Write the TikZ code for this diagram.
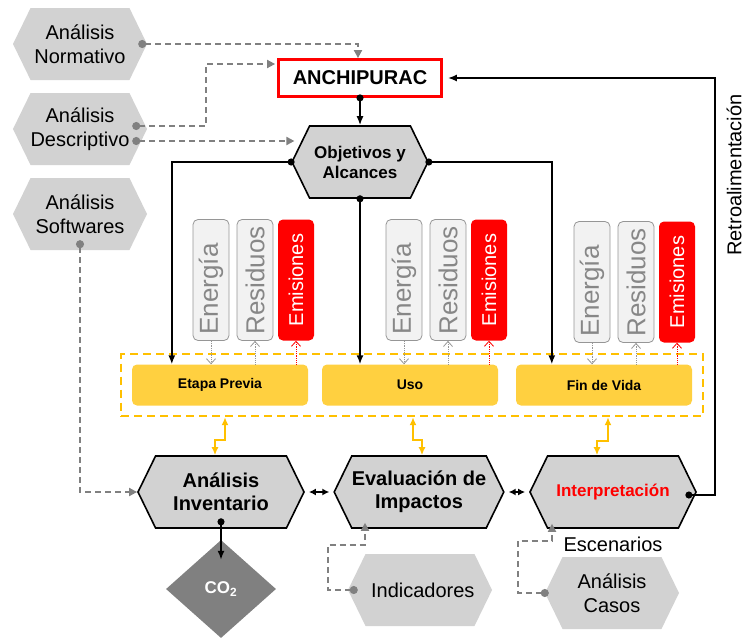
\documentclass[tikz,border=0pt]{standalone}
\usepackage{fontspec}
\setmainfont{Liberation Sans}
\usepackage{tikz}
\usetikzlibrary{shapes.symbols,shapes.geometric,arrows.meta,fit,calc}

\definecolor{hexgray}{RGB}{210,210,210}
\definecolor{linkgray}{RGB}{128,128,128}
\definecolor{phaseyellow}{RGB}{255,208,64}
\definecolor{frameyellow}{RGB}{255,192,0}
\definecolor{boxgray}{RGB}{242,242,242}
\definecolor{boxline}{RGB}{150,150,150}
\definecolor{boxtext}{RGB}{135,135,135}
\definecolor{co2gray}{RGB}{128,128,128}

\newcommand{\fsz}[2]{\fontsize{#1}{#2}\selectfont}

\tikzset{
  every hex/.style={signal, signal to=east and west, signal pointer angle=128,
    minimum width=134pt, minimum height=72pt, inner sep=0pt, align=center, fill=hexgray},
  soft hex/.style={every hex, font=\fsz{20}{24}},
  main hex/.style={every hex, draw=black, line width=1.6pt, minimum width=166pt, font=\bfseries\fsz{20}{23}},
  phase/.style={fill=phaseyellow, rounded corners=5pt, minimum width=176pt, minimum height=41pt,
    font=\bfseries\fsz{14}{16}},
  flowbox/.style={rounded corners=5pt, rotate=90, minimum width=121pt, minimum height=36pt, inner sep=0pt},
  flowgray/.style={flowbox, fill=boxgray, draw=boxline, line width=0.8pt, text=boxtext,
    text width=109pt, inner xsep=6pt, align=left, font=\fsz{26}{28}},
  flowred/.style={flowbox, fill=red, text=white, font=\fsz{20}{22}},
  flow/.style={line width=1.6pt, -{Latex[length=9pt,width=7pt]}},
  dotflow/.style={line width=1.6pt, {Circle[length=7pt]}-{Latex[length=9pt,width=7pt]}, shorten <=-3.5pt},
  dlink/.style={linkgray, line width=1.8pt, dash pattern=on 6pt off 4pt,
    {Circle[length=8pt]}-{Triangle[length=8pt,width=8pt]}, shorten <=-4pt},
  ylink/.style={frameyellow, line width=2pt, {Latex[length=8pt,width=7pt]}-{Latex[length=8pt,width=7pt]}},
  twoway/.style={line width=1.6pt, {Latex[length=7pt,width=7pt]}-{Latex[length=7pt,width=7pt]},
    shorten <=4pt, shorten >=4pt},
  thinlink/.style={line width=0.8pt, densely dotted, -{Straight Barb[length=5pt,width=9pt]}}
}

\begin{document}
\begin{tikzpicture}[x=1pt, y=-1pt]

\useasboundingbox (0,0) rectangle (746,637);

\node[soft hex] (norm) at (80,44) {Análisis\\Normativo};
\node[soft hex] (desc) at (80,129) {Análisis\\Descriptivo};
\node[soft hex] (soft) at (80,214) {Análisis\\Softwares};

\node[draw=red, line width=2.8pt, fill=white, minimum width=163pt, minimum height=37pt,
  font=\bfseries\fsz{20}{24}] (anch) at (360,78) {ANCHIPURAC};
\node[main hex, minimum width=136pt, font=\bfseries\fsz{17}{20}] (obj) at (360,162) {Objetivos y\\Alcances};

\foreach \p/\x in {ep/220, uso/410, fin/604}
  \node[phase] (phase-\p) at (\x,385) {};
\node[font=\bfseries\fsz{14}{16}] at (phase-ep) {Etapa Previa};
\node[font=\bfseries\fsz{14}{16}] at (phase-uso) {Uso};
\node[font=\bfseries\fsz{14}{16}] at (phase-fin) {Fin de Vida};

\node[draw=frameyellow, line width=2pt, dash pattern=on 8pt off 5pt, inner sep=10.5pt,
  fit=(phase-ep)(phase-uso)(phase-fin)] (box) {};

\foreach \p/\x/\y in {ep/211/280, uso/404/280, fin/592/282} {
  \node[flowgray] (ene-\p) at (\x,\y) {Energía};
  \node[flowgray] (res-\p) at (\x+44,\y) {Residuos};
  \node[flowred] (emi-\p) at (\x+85,\y) {Emisiones};
  \draw[thinlink, boxline] (ene-\p.west) -- (ene-\p.west |- phase-\p.north);
  \draw[thinlink, boxline] (res-\p.west |- phase-\p.north) -- (res-\p.west);
  \draw[thinlink, red] (emi-\p.west |- phase-\p.north) -- (emi-\p.west);
}

\node[main hex] (inv) at (221,492) {Análisis\\Inventario};
\node[main hex] (eva) at (419,492) {Evaluación de\\Impactos};
\node[main hex, text=red, font=\bfseries\fsz{17}{20}] (inter) at (613,492) {Interpretación};

\node[diamond, fill=co2gray, minimum width=110pt, minimum height=98pt, inner sep=0pt,
  text=white, font=\bfseries\fsz{17}{20}] (co2) at (221,589) {CO\textsubscript{2}};
\node[soft hex, minimum width=135pt] (ind) at (420,590) {\ Indicadores};
\node[soft hex] (casos) at (612,593) {Análisis\\Casos};
\node[font=\fsz{20}{24}] (esc) at (613,544) {Escenarios};
\node[rotate=90, font=\fsz{20}{24}] (retro) at (734,175) {Retroalimentación};

\coordinate (dsc-a) at ([xshift=-11pt,yshift=3pt]desc.east);
\coordinate (dsc-b) at ([xshift=-11pt,yshift=-12pt]desc.east);

\draw[dlink] ([xshift=-5pt]norm.east) -| ([xshift=-2pt]anch.north);
\draw[dlink] (dsc-a) -| ($(anch.west)+(-71,-14)$) -- ($(anch.west)+(-2,-14)$);
\draw[dlink, shorten >=7pt] (dsc-b) -- (dsc-b -| obj.160);
\draw[dlink] ([yshift=6pt]soft.south) |- (inv.west);
\draw[dlink] ([xshift=6pt]ind.west) -- ++(-26,0) |- ($(eva.south)+(-54,16)$) -- ($(eva.south)+(-54,-6)$);
\draw[dlink] (casos.west) -- ++(-27,0) |- ($(inter.south)+(-61,12)$) -- ($(inter.south)+(-61,-5)$);

\draw[dotflow] (anch.south) -- (obj.north);
\draw[dotflow] (obj.west) -| ([xshift=40pt]phase-ep.north west);
\draw[dotflow] (obj.south) -- (obj.south |- phase-uso.north);
\draw[dotflow] (obj.east) -| ([xshift=36pt]phase-fin.north west);
\draw[dotflow] ([yshift=7pt]inv.south) -- ([yshift=-20pt]co2.north);
\draw[dotflow, shorten >=5pt] ([xshift=-8pt,yshift=-3pt]inter.east) -- ++(26,0) |- (anch.east);

\draw[twoway] (inv) -- (eva);
\draw[twoway] (eva) -- (inter);

\draw[ylink] ($(inv.north |- box.south)+(4,0)$) -- ++(0,23) -| ($(inv.north)+(-6,0)$);
\draw[ylink] ($(eva.north |- box.south)+(-6,0)$) -- ++(0,23) -| ($(eva.north)+(3,0)$);
\draw[ylink] ($(inter.north |- box.south)+(-5,0)$) -- ++(0,24) -| ($(inter.north)+(-16,0)$);

\end{tikzpicture}
\end{document}
